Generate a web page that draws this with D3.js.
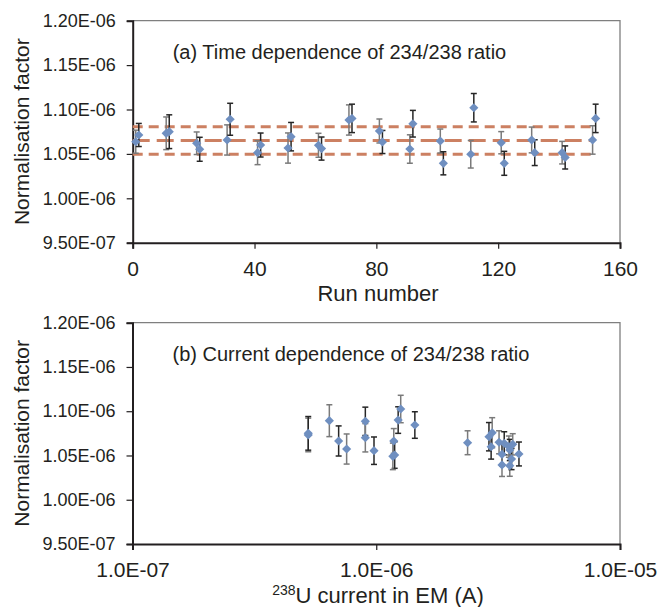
<!DOCTYPE html>
<html>
<head>
<meta charset="utf-8">
<script src="https://d3js.org/d3.v7.min.js"></script>
<style>
  body { margin: 0; background: #fff; }
  text { font-family: "Liberation Sans", Arial, sans-serif; fill: #231f20; }
</style>
</head>
<body>
<script>
// ---- data (a): time dependence ----
var runs = [1, 2, 11, 12, 21, 22, 31, 32, 41, 42, 51, 52, 61, 62, 71, 72,
            81, 82, 91, 92, 101, 102, 111, 112, 121, 122, 131, 132, 141, 142, 151, 152];
var runVals = [1.0637, 1.0713, 1.0732, 1.0750, 1.0620, 1.0552, 1.0657, 1.0890,
               1.0514, 1.0600, 1.0566, 1.0694, 1.0597, 1.0560, 1.0882, 1.0900,
               1.0758, 1.0634, 1.0555, 1.0840, 1.0645, 1.0394, 1.0496, 1.1020,
               1.0626, 1.0394, 1.0657, 1.0514, 1.0514, 1.0460, 1.0657, 1.0900].map(function (v) { return v * 1e-6; });
var runErrs = [0.013, 0.013, 0.0184, 0.019, 0.0127, 0.0135, 0.017, 0.018,
               0.0135, 0.0135, 0.017, 0.016, 0.0135, 0.013, 0.017, 0.016,
               0.0135, 0.013, 0.016, 0.015, 0.0135, 0.013, 0.0155, 0.016,
               0.0125, 0.0135, 0.0145, 0.0145, 0.0127, 0.013, 0.016, 0.016].map(function (v) { return v * 1e-6; });
var meanLines = [1.0805e-6, 1.065e-6, 1.0495e-6];
var meanRange = [0, 151];

// ---- data (b): current dependence ----
var currents = [5.26e-7, 5.26e-7, 6.42e-7, 7.01e-7, 7.56e-7, 9.02e-7, 9.02e-7, 9.79e-7,
                1.18e-6, 1.19e-6, 1.17e-6, 1.23e-6, 1.26e-6, 1.44e-6, 2.37e-6, 2.90e-6,
                2.99e-6, 2.96e-6, 3.19e-6, 3.28e-6, 3.28e-6, 3.35e-6, 3.50e-6, 3.53e-6,
                3.53e-6, 3.59e-6, 3.63e-6, 3.85e-6];
var curVals = [1.0732, 1.0750, 1.0893, 1.0664, 1.0573, 1.0886, 1.0700, 1.0554,
               1.0664, 1.0505, 1.0490, 1.0900, 1.1025, 1.0844, 1.0644, 1.0712,
               1.0757, 1.0599, 1.0649, 1.0513, 1.0393, 1.0638, 1.0600, 1.0562,
               1.0385, 1.0460, 1.0626, 1.0517].map(function (v) { return v * 1e-6; });
var curErrs = [0.019, 0.019, 0.018, 0.017, 0.017, 0.016, 0.016, 0.0155,
               0.014, 0.015, 0.015, 0.015, 0.0155, 0.015, 0.0135, 0.016,
               0.017, 0.014, 0.013, 0.013, 0.013, 0.013, 0.012, 0.012,
               0.012, 0.012, 0.012, 0.0135].map(function (v) { return v * 1e-6; });

var yTicks = [0.95e-6, 1.0e-6, 1.05e-6, 1.10e-6, 1.15e-6, 1.20e-6];
var runTicks = [0, 40, 80, 120, 160];
var curTicks = [1e-7, 1e-6, 1e-5];

var markerColor = "#6f8fc0";
var lineColor = "#cc8062";

// Excel-like scientific format
function sci(v, digits) {
    var e = Math.floor(Math.log10(v) + 1e-9);
    var m = v / Math.pow(10, e);
    return m.toFixed(digits) + "E" + (e < 0 ? "-" : "+") + String(Math.abs(e)).padStart(2, "0");
}

// square rotated 45 degrees
var diamond = {
    draw: function (ctx, size) {
        var r = Math.sqrt(size / 2);
        ctx.moveTo(0, -r); ctx.lineTo(r, 0); ctx.lineTo(0, r); ctx.lineTo(-r, 0); ctx.closePath();
    }
};

var svg = d3.select("body").append("svg")
    .attr("width", 662)
    .attr("height", 607);

function panel(opt) {
    var x = opt.x, y = opt.y;
    var g = svg.append("g");
    var L = x.range()[0], R = x.range()[1], T = y.range()[1], B = y.range()[0];

    // top/right border
    g.append("path")
        .attr("d", "M" + L + "," + T + "H" + R + "V" + B)
        .attr("fill", "none").attr("stroke", "#7f7f7f").attr("stroke-width", 1.3);

    // y axis
    var ya = g.append("g").attr("transform", "translate(" + L + ",0)")
        .call(d3.axisLeft(y).tickValues(yTicks).tickSize(6).tickPadding(11)
            .tickFormat(function (d) { return sci(d, 2); }));
    ya.select(".domain").attr("stroke", "#231f20").attr("stroke-width", 2);
    ya.selectAll(".tick line").attr("stroke", "#231f20").attr("stroke-width", 1.2);
    ya.selectAll("text").style("font-size", "18px").attr("fill", "#231f20");

    // x axis
    var xa = g.append("g").attr("transform", "translate(0," + B + ")")
        .call(d3.axisBottom(x).tickValues(opt.xTicks).tickSize(6).tickPadding(12)
            .tickFormat(opt.xFormat));
    xa.select(".domain").attr("stroke", "#231f20").attr("stroke-width", 2);
    xa.selectAll(".tick line").attr("stroke", "#231f20").attr("stroke-width", 1.2);
    xa.selectAll("text").style("font-size", "21px").attr("fill", "#231f20");

    // y title
    g.append("text")
        .attr("transform", "translate(29," + ((T + B) / 2) + ") rotate(-90)")
        .attr("text-anchor", "middle")
        .style("font-size", "21px")
        .text("Normalisation factor");

    // panel title
    g.append("text")
        .attr("x", L + 40).attr("y", T + 38)
        .style("font-size", "20px")
        .text(opt.title);

    return g;
}

function points(g, x, y, xs, vals, errs) {
    var data = xs.map(function (d, i) { return { x: d, v: vals[i], e: errs[i], i: i }; });
    var eb = g.append("g").selectAll("g").data(data).enter().append("g")
        .attr("stroke", function (d) { return d.i % 2 ? "#262626" : "#7a7a7a"; })
        .attr("stroke-width", 1.5);
    eb.append("line")
        .attr("x1", function (d) { return x(d.x); }).attr("x2", function (d) { return x(d.x); })
        .attr("y1", function (d) { return y(d.v + d.e); }).attr("y2", function (d) { return y(d.v - d.e); });
    [1, -1].forEach(function (s) {
        eb.append("line")
            .attr("x1", function (d) { return x(d.x) - 3; }).attr("x2", function (d) { return x(d.x) + 3; })
            .attr("y1", function (d) { return y(d.v + s * d.e); }).attr("y2", function (d) { return y(d.v + s * d.e); });
    });
    g.append("g").selectAll("path").data(data).enter().append("path")
        .attr("d", d3.symbol().type(diamond).size(42))
        .attr("transform", function (d) { return "translate(" + x(d.x) + "," + y(d.v) + ")"; })
        .attr("fill", markerColor);
}

// ---- panel (a) ----
var xa = d3.scaleLinear().domain([0, 160]).range([132.7, 620]);
var ya = d3.scaleLinear().domain([0.95e-6, 1.2e-6]).range([242.7, 20.7]);
var ga = panel({ x: xa, y: ya, xTicks: runTicks, xFormat: d3.format("d"),
                 title: "(a) Time dependence of 234/238 ratio" });

ga.append("g").selectAll("line").data(meanLines).enter().append("line")
    .attr("x1", xa(meanRange[0])).attr("x2", xa(meanRange[1]))
    .attr("y1", function (d) { return ya(d); }).attr("y2", function (d) { return ya(d); })
    .attr("stroke", lineColor).attr("stroke-width", 3)
    .attr("stroke-dasharray", function (d, i) { return i === 1 ? "17,7" : "10,6"; });

points(ga, xa, ya, runs, runVals, runErrs);

svg.append("text")
    .attr("x", 378).attr("y", 301)
    .attr("text-anchor", "middle")
    .style("font-size", "22px")
    .text("Run number");

// ---- panel (b) ----
var xb = d3.scaleLog().domain([1e-7, 1e-5]).range([132.5, 620]);
var yb = d3.scaleLinear().domain([0.95e-6, 1.2e-6]).range([544, 322.7]);
var gb = panel({ x: xb, y: yb, xTicks: curTicks, xFormat: function (d) { return sci(d, 1); },
                 title: "(b) Current dependence of 234/238 ratio" });

points(gb, xb, yb, currents, curVals, curErrs);

var xt = svg.append("text")
    .attr("x", 378).attr("y", 603)
    .attr("text-anchor", "middle")
    .style("font-size", "22px");
xt.append("tspan").style("font-size", "14px").attr("dy", "-8").text("238");
xt.append("tspan").attr("dy", "8").text("U current in EM (A)");
</script>
</body>
</html>
